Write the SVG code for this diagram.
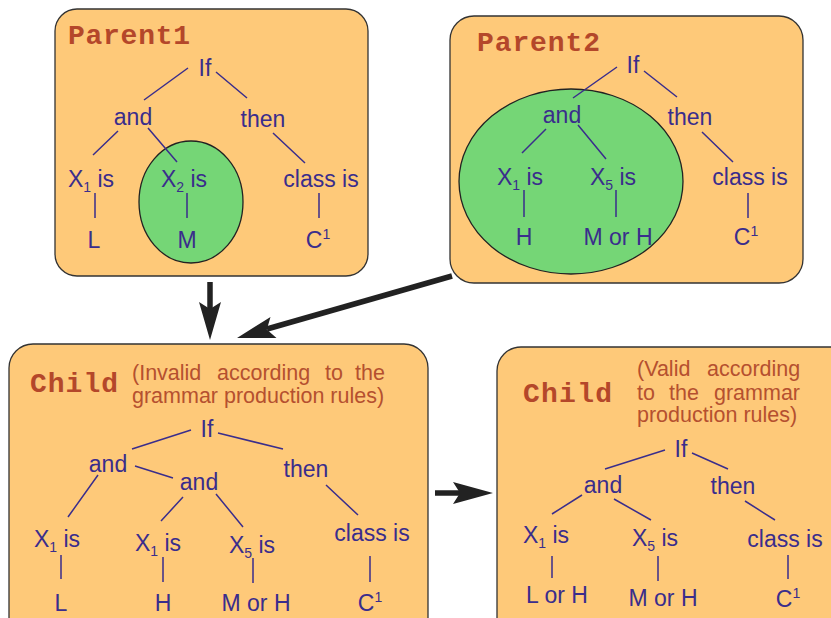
<svg xmlns="http://www.w3.org/2000/svg" width="831" height="618" viewBox="0 0 831 618">
<style>
.box{fill:#fec979;stroke:#333;stroke-width:1.3}
.ell{fill:#75d676;stroke:#222;stroke-width:1.3}
.t{font-family:"Liberation Sans",Arial,sans-serif;font-size:23px;fill:#3a2d8c;text-anchor:middle}
.lbl{font-family:"Liberation Mono","Courier New",monospace;font-weight:bold;font-size:28px;fill:#b4472a}
.d{font-family:"Liberation Sans",Arial,sans-serif;font-size:21.5px;fill:#b5502f}
.e{stroke:#3a2d8c;stroke-width:1.5;fill:none}
.sub{font-size:14px}
.arr{stroke:#222;stroke-width:5.5;fill:none}
.ah{fill:#222}
</style>
<rect width="831" height="618" fill="#fff"/>

<g id="parent1">
<rect class="box" x="55" y="9" width="313" height="267" rx="22"/>
<ellipse class="ell" cx="191" cy="202" rx="52" ry="61"/>
<text class="lbl" x="68" y="44" textLength="122">Parent1</text>
<path class="e" d="M188,68 L144,100 M216,72 L247,98 M118,131 L93,155 M148,128 L177,162 M273,133 L305,163 M95,193 V218 M187,193 V218 M319,193 V218"/>
<text class="t" x="205" y="76">If</text>
<text class="t" x="133" y="125">and</text>
<text class="t" x="263" y="127">then</text>
<text class="t" x="91" y="187">X<tspan class="sub" dy="5">1</tspan><tspan dy="-5"> is</tspan></text>
<text class="t" x="184" y="187">X<tspan class="sub" dy="5">2</tspan><tspan dy="-5"> is</tspan></text>
<text class="t" x="321" y="187">class is</text>
<text class="t" x="94" y="248">L</text>
<text class="t" x="187" y="248">M</text>
<text class="t" x="318" y="248">C<tspan class="sub" dy="-9">1</tspan></text>
</g>

<g id="parent2">
<rect class="box" x="450" y="16" width="353" height="267" rx="24"/>
<ellipse class="ell" cx="571" cy="181.5" rx="112" ry="92.5"/>
<text class="lbl" x="477" y="51" textLength="123">Parent2</text>
<path class="e" d="M617,67 L573,98 M644,71 L677,97 M546,129 L522,153 M578,125 L606,159 M702,132 L733,162 M524,190 V217 M616,190 V217 M748,193 V218"/>
<text class="t" x="633" y="73">If</text>
<text class="t" x="562" y="123">and</text>
<text class="t" x="690" y="125">then</text>
<text class="t" x="520" y="185">X<tspan class="sub" dy="5">1</tspan><tspan dy="-5"> is</tspan></text>
<text class="t" x="613" y="185">X<tspan class="sub" dy="5">5</tspan><tspan dy="-5"> is</tspan></text>
<text class="t" x="750" y="185">class is</text>
<text class="t" x="524" y="245">H</text>
<text class="t" x="618" y="245">M or H</text>
<text class="t" x="746" y="245">C<tspan class="sub" dy="-9">1</tspan></text>
</g>

<g id="child1">
<rect class="box" x="9" y="344" width="419" height="300" rx="24"/>
<text class="lbl" x="30" y="392" textLength="88">Child</text>
<text class="d" y="380"><tspan x="132">(Invalid</tspan><tspan x="217">according</tspan><tspan x="325">to</tspan><tspan x="355">the</tspan></text>
<text class="d" x="132" y="403">grammar production rules)</text>
<path class="e" d="M191,430 L132,449 M218,433 L283,449 M135,466 L173,478 M98,475 L68,517 M183,497 L161,521 M216,494 L243,527 M326,485 L358,515 M61,555 V579 M163,557 V582 M253,558 V583 M370,556 V582"/>
<text class="t" x="207" y="437">If</text>
<text class="t" x="108" y="472">and</text>
<text class="t" x="199" y="490">and</text>
<text class="t" x="306" y="477">then</text>
<text class="t" x="57" y="547">X<tspan class="sub" dy="5">1</tspan><tspan dy="-5"> is</tspan></text>
<text class="t" x="158" y="551">X<tspan class="sub" dy="5">1</tspan><tspan dy="-5"> is</tspan></text>
<text class="t" x="252" y="553">X<tspan class="sub" dy="5">5</tspan><tspan dy="-5"> is</tspan></text>
<text class="t" x="372" y="541">class is</text>
<text class="t" x="61" y="611">L</text>
<text class="t" x="163" y="611">H</text>
<text class="t" x="256" y="611">M or H</text>
<text class="t" x="370" y="611">C<tspan class="sub" dy="-9">1</tspan></text>
</g>

<g id="child2">
<rect class="box" x="497" y="347" width="360" height="300" rx="24"/>
<text class="lbl" x="523" y="402" textLength="89">Child</text>
<text class="d" y="376"><tspan x="637">(Valid</tspan><tspan x="707">according</tspan></text>
<text class="d" y="400"><tspan x="637">to</tspan><tspan x="669">the</tspan><tspan x="714">grammar</tspan></text>
<text class="d" x="637" y="422">production rules)</text>
<path class="e" d="M665,450 L605,469 M692,453 L728,469 M582,495 L552,514 M614,499 L651,520 M745,501 L775,520 M552,556 V578 M658,556 V581 M788,555 V579"/>
<text class="t" x="681" y="457">If</text>
<text class="t" x="603" y="493">and</text>
<text class="t" x="733" y="494">then</text>
<text class="t" x="546" y="543">X<tspan class="sub" dy="5">1</tspan><tspan dy="-5"> is</tspan></text>
<text class="t" x="655" y="546">X<tspan class="sub" dy="5">5</tspan><tspan dy="-5"> is</tspan></text>
<text class="t" x="785" y="547">class is</text>
<text class="t" x="557" y="603">L or H</text>
<text class="t" x="663" y="606">M or H</text>
<text class="t" x="788" y="607">C<tspan class="sub" dy="-9">1</tspan></text>
</g>

<g id="connectors">
<line class="arr" x1="210" y1="282" x2="210" y2="310"/>
<polygon class="ah" points="210,340 199,302 210,309 221,302"/>
<line class="arr" x1="452" y1="276" x2="267" y2="329"/>
<polygon class="ah" points="237,338 270.5,317 266.8,329.4 276.5,338"/>
<line class="arr" x1="435" y1="493" x2="461" y2="493"/>
<polygon class="ah" points="493,493 453,482 460,493 453,504"/>
</g>
</svg>
